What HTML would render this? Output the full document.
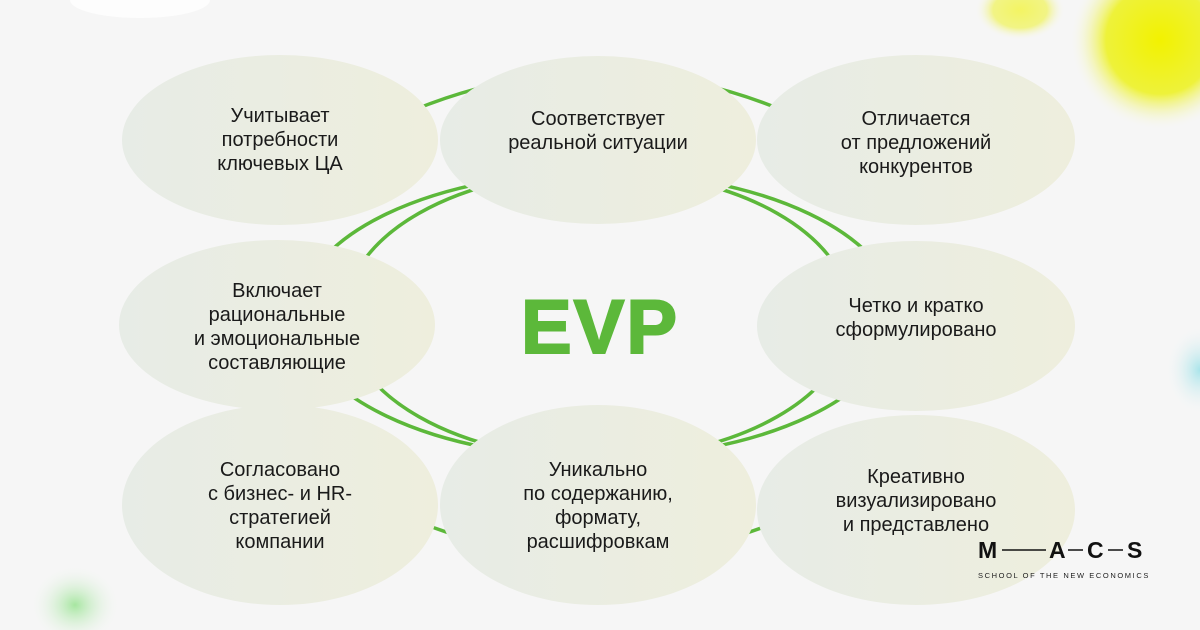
<!DOCTYPE html>
<html><head><meta charset="utf-8"><style>
body{margin:0;width:1200px;height:630px;overflow:hidden;background:#f6f6f6;font-family:"Liberation Sans",sans-serif;position:relative}
svg{position:absolute;left:0;top:0}
.t{position:absolute;width:300px;text-align:center;font-size:20px;line-height:24px;color:#1a1a1a}
</style></head><body>
<svg width="1200" height="630">
<defs>
<radialGradient id="y" cx="50%" cy="50%" r="50%"><stop offset="0" stop-color="#f2f200"/><stop offset="0.6" stop-color="#eef23a"/><stop offset="1" stop-color="#f6f6f6" stop-opacity="0"/></radialGradient>
<radialGradient id="g" cx="50%" cy="50%" r="50%"><stop offset="0" stop-color="#a6e6a0"/><stop offset="1" stop-color="#f6f6f6" stop-opacity="0"/></radialGradient>
<radialGradient id="c" cx="50%" cy="50%" r="50%"><stop offset="0" stop-color="#a8e4ea"/><stop offset="1" stop-color="#f6f6f6" stop-opacity="0"/></radialGradient>
<linearGradient id="e" x1="0" y1="0" x2="1" y2="0"><stop offset="0" stop-color="#e7ece6"/><stop offset="1" stop-color="#eeeedd"/></linearGradient>
</defs>
<ellipse cx="1160" cy="40" rx="90" ry="90" fill="url(#y)"/>
<ellipse cx="1020" cy="10" rx="45" ry="30" fill="url(#y)" opacity="0.6"/>
<ellipse cx="75" cy="605" rx="45" ry="40" fill="url(#g)"/>
<ellipse cx="1200" cy="370" rx="35" ry="45" fill="url(#c)"/>
<ellipse cx="140" cy="0" rx="70" ry="18" fill="#fff" opacity="0.8"/>
<g fill="none" stroke="#5cb83a" stroke-width="3.5">
<ellipse cx="598" cy="315" rx="299" ry="143"/>
<ellipse cx="598" cy="315" rx="253" ry="144"/>
<path d="M380 125 Q598 20 816 125"/>
<path d="M380 505 Q598 610 816 505"/>
</g>
<g fill="url(#e)">
<ellipse cx="280" cy="140" rx="158" ry="85"/>
<ellipse cx="598" cy="140" rx="158" ry="84"/>
<ellipse cx="916" cy="140" rx="159" ry="85"/>
<ellipse cx="277" cy="325" rx="158" ry="85"/>
<ellipse cx="916" cy="326" rx="159" ry="85"/>
<ellipse cx="280" cy="505" rx="158" ry="100"/>
<ellipse cx="598" cy="505" rx="158" ry="100"/>
<ellipse cx="916" cy="510" rx="159" ry="95"/>
</g>
<text x="600" y="353" text-anchor="middle" font-family="Liberation Sans" font-weight="bold" font-size="76" fill="#5cb83a" stroke="#5cb83a" stroke-width="2" letter-spacing="2">EVP</text>
<text x="978" y="558" font-family="Liberation Sans" font-weight="bold" font-size="23" fill="#111">M</text>
<line x1="1002" y1="550" x2="1046" y2="550" stroke="#111" stroke-width="1.5"/>
<text x="1049" y="558" font-family="Liberation Sans" font-weight="bold" font-size="23" fill="#111">A</text>
<line x1="1068" y1="550" x2="1083" y2="550" stroke="#111" stroke-width="1.5"/>
<text x="1087" y="558" font-family="Liberation Sans" font-weight="bold" font-size="23" fill="#111">C</text>
<line x1="1108" y1="550" x2="1123" y2="550" stroke="#111" stroke-width="1.5"/>
<text x="1127" y="558" font-family="Liberation Sans" font-weight="bold" font-size="23" fill="#111">S</text>
<text x="978" y="578" font-family="Liberation Sans" font-size="7.5" fill="#222" letter-spacing="1.6">SCHOOL OF THE NEW ECONOMICS</text>
</svg>
<div class="t" style="left:130px;top:104px">Учитывает<br>потребности<br>ключевых ЦА</div>
<div class="t" style="left:448px;top:107px">Соответствует<br>реальной ситуации</div>
<div class="t" style="left:766px;top:107px">Отличается<br>от предложений<br>конкурентов</div>
<div class="t" style="left:127px;top:279px">Включает<br>рациональные<br>и эмоциональные<br>составляющие</div>
<div class="t" style="left:766px;top:294px">Четко и кратко<br>сформулировано</div>
<div class="t" style="left:130px;top:458px">Согласовано<br>с бизнес- и HR-<br>стратегией<br>компании</div>
<div class="t" style="left:448px;top:458px">Уникально<br>по содержанию,<br>формату,<br>расшифровкам</div>
<div class="t" style="left:766px;top:465px">Креативно<br>визуализировано<br>и представлено</div>
</body></html>
